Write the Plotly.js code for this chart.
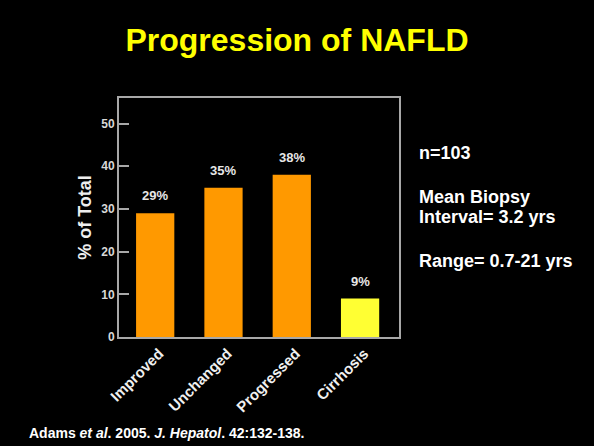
<!DOCTYPE html>
<html>
<head>
<meta charset="utf-8">
<script src="https://cdn.plot.ly/plotly-3.0.1.min.js"></script>
<style>
  html, body { margin: 0; padding: 0; background: #000; }
  #chart { width: 594px; height: 446px; }
</style>
</head>
<body>
<div id="chart"></div>
<script>
// Outcome categories on repeat biopsy and their share of patients (%)
const categories = ["Improved", "Unchanged", "Progressed", "Cirrhosis"];
const percentTotal = [29, 35, 38, 9];
const barColors = ["#ff9900", "#ff9900", "#ff9900", "#ffff33"];
const yTicks = [0, 10, 20, 30, 40, 50];

// Study notes shown at the right of the chart
const notes = ["n=103", "Mean Biopsy", "Interval= 3.2 yrs", "Range= 0.7-21 yrs"];
const notePixelY = [153, 197, 217, 261];

const FONT = "'Liberation Sans', Arial, Helvetica, sans-serif";
const W = 594, H = 446;
const M = { l: 119, r: 195, t: 98, b: 109 };
const plotH = H - M.t - M.b;
const plotW = W - M.l - M.r;

const trace = {
  type: "bar",
  x: categories,
  y: percentTotal,
  width: 0.56,
  marker: { color: barColors, line: { width: 0 } },
  hoverinfo: "skip"
};

// Percentage labels above each bar
const barLabels = categories.map((c, i) => ({
  x: c, y: percentTotal[i], xref: "x", yref: "y",
  text: "<b>" + percentTotal[i] + "%</b>",
  showarrow: false, yanchor: "bottom", yshift: 8,
  font: { family: FONT, size: 13, color: "#e6e6e6" }
}));

const noteLabels = notes.map((t, i) => ({
  x: (417 - M.l) / plotW, xref: "paper", xanchor: "left",
  y: (H - M.b - notePixelY[i]) / plotH, yref: "paper", yanchor: "middle",
  text: "<b>" + t + "</b>", showarrow: false, align: "left",
  font: { family: FONT, size: 18, color: "#ffffff" }
}));

const citation = {
  x: (27 - M.l) / plotW, xref: "paper", xanchor: "left",
  y: (H - M.b - 433) / plotH, yref: "paper", yanchor: "middle",
  text: "<b>Adams <i>et al</i>. 2005. <i>J. Hepatol</i>. 42:132-138.</b>",
  showarrow: false,
  font: { family: FONT, size: 14, color: "#ffffff" }
};

const layout = {
  width: W, height: H,
  margin: M,
  paper_bgcolor: "#000000",
  plot_bgcolor: "#000000",
  showlegend: false,
  title: {
    text: "<b>Progression of NAFLD</b>",
    x: 0.5, xref: "container", xanchor: "center",
    y: 1 - 40 / H, yref: "container", yanchor: "middle",
    font: { family: FONT, size: 32, color: "#ffff00" }
  },
  xaxis: {
    type: "category",
    range: [-0.53, 3.57],
    showline: true, mirror: true, linecolor: "#a8a8a8", linewidth: 2,
    showgrid: false, zeroline: false, ticks: "",
    tickangle: -45,
    ticklabelshift: 4,
    tickfont: { family: FONT, size: 15, color: "#f0f0f0", weight: "bold" }
  },
  yaxis: {
    range: [0, 56],
    tickvals: yTicks,
    ticktext: yTicks.map(v => "<b>" + v + "</b>"),
    ticks: "inside", ticklen: 10, tickwidth: 2, tickcolor: "#a8a8a8",
    showline: true, mirror: true, linecolor: "#a8a8a8", linewidth: 2,
    showgrid: false, zeroline: false,
    tickfont: { family: FONT, size: 12, color: "#d8d8d8" },
    title: {
      text: "<b>% of Total</b>",
      standoff: 5,
      font: { family: FONT, size: 18, color: "#eeeeee" }
    }
  },
  annotations: [...barLabels, ...noteLabels, citation],
  bargap: 0.45
};

Plotly.newPlot("chart", [trace], layout, { displayModeBar: false, staticPlot: true });
</script>
</body>
</html>
